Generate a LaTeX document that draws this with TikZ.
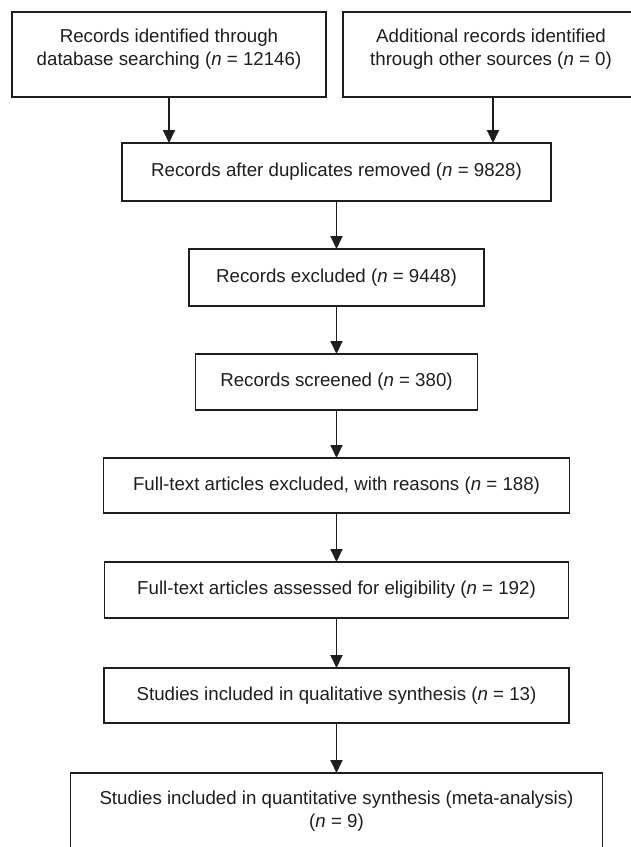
\documentclass[tikz,border=0pt]{standalone}
\usepackage{fontspec}
\setmainfont{Liberation Sans}
\usetikzlibrary{arrows.meta}
\definecolor{ink}{HTML}{1E1E1E}
\tikzset{
  box/.style={draw=ink, line width=1.9pt, rectangle, inner sep=0pt, outer sep=0pt},
  txt/.style={text=ink, font=\fontsize{18.7}{22.8}\selectfont, align=center, inner sep=0pt},
  flow/.style={draw=ink, line width=1.9pt, -{Triangle[length=13pt,width=12pt]}}
}
\begin{document}
\begin{tikzpicture}[x=1pt,y=-1pt]
\useasboundingbox (0,0) rectangle (631,847);
\clip (0,0) rectangle (631,847);
\fill[white] (0,0) rectangle (631,847);
% boxes
\node[box, minimum width=314pt, minimum height=85pt] (db) at (169,54.5) {};
\node[box, minimum width=300pt, minimum height=85pt] (oth) at (493,54.5) {};
\node[box, minimum width=429pt, minimum height=58pt] (dup) at (336.5,172) {};
\node[box, minimum width=295pt, minimum height=57pt] (excl) at (336.5,277.5) {};
\node[box, minimum width=282pt, minimum height=56pt] (scr) at (336.5,382) {};
\node[box, minimum width=466pt, minimum height=55pt] (ftex) at (336.5,485.5) {};
\node[box, minimum width=464pt, minimum height=56pt] (elig) at (336.5,590) {};
\node[box, minimum width=465pt, minimum height=55pt] (qual) at (336.5,695.5) {};
\node[box, minimum width=532pt, minimum height=88pt] (quant) at (336.5,817) {};
% texts
\node[txt] (dbt) at (169,49) {Records identified through\\database searching (\textit{n} = 12146)};
\node[txt] (otht) at (491,49) {Additional records identified\\through other sources (\textit{n} = 0)};
\node[txt] (dupt) at (dup.center) {Records after duplicates removed (\textit{n} = 9828)};
\node[txt] (exclt) at (excl.center) {Records excluded (\textit{n} = 9448)};
\node[txt] (scrt) at (scr.center) {Records screened (\textit{n} = 380)};
\node[txt] (ftext) at (ftex.center) {Full-text articles excluded, with reasons (\textit{n} = 188)};
\node[txt] (eligt) at (elig.center) {Full-text articles assessed for eligibility (\textit{n} = 192)};
\node[txt] (qualt) at (qual.center) {Studies included in qualitative synthesis (\textit{n} = 13)};
\node[txt] (quantt) at (336.5,811) {Studies included in quantitative synthesis (meta-analysis)\\(\textit{n} = 9)};
% connectors
\draw[flow] (db.south) -- (db.south |- dup.north);
\draw[flow] (oth.south) -- (oth.south |- dup.north);
\draw[flow] (dup.south) -- (excl.north);
\draw[flow] (excl.south) -- (scr.north);
\draw[flow] (scr.south) -- (ftex.north);
\draw[flow] (ftex.south) -- (elig.north);
\draw[flow] (elig.south) -- (qual.north);
\draw[flow] (qual.south) -- (quant.north);
\end{tikzpicture}
\end{document}
